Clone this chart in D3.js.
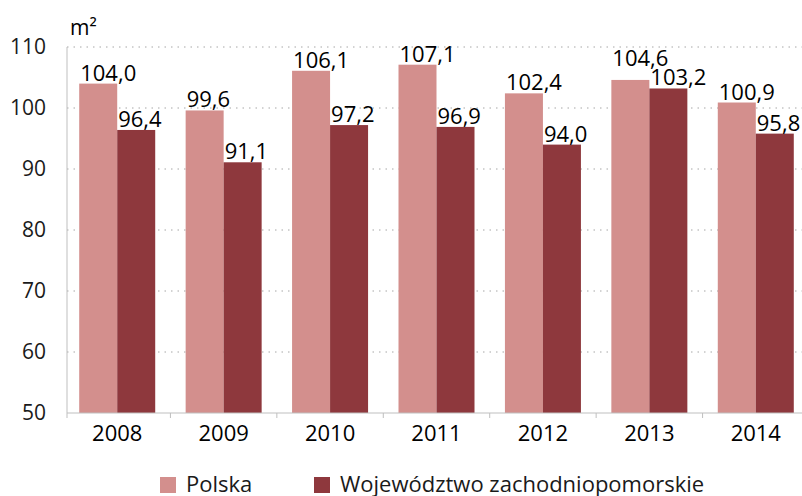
<!DOCTYPE html>
<html>
<head>
<meta charset="utf-8">
<script src="https://cdn.jsdelivr.net/npm/d3@7"></script>
<style>
  body { margin: 0; background: #fff; }
  svg { font-family: "Open Sans", "Liberation Sans", Arial, sans-serif; }
  .grid line { stroke: #a6a6a6; stroke-dasharray: 1.5,5; }
  .axis path, .axis line { stroke: #bfbfbf; }
</style>
</head>
<body>
<svg width="802" height="496"></svg>
<script>
var years = ["2008", "2009", "2010", "2011", "2012", "2013", "2014"];
var polska = [104.0, 99.6, 106.1, 107.1, 102.4, 104.6, 100.9];
var zachodniopomorskie = [96.4, 91.1, 97.2, 96.9, 94.0, 103.2, 95.8];
var seriesNames = ["Polska", "Województwo zachodniopomorskie"];
var yTicks = [50, 60, 70, 80, 90, 100, 110];

var colors = ["#d38f8d", "#8e383d"];
var font = "Open Sans, Liberation Sans, Arial, sans-serif";
var svg = d3.select("svg"),
    axisX = 67, plotLeft = 64, plotRight = 809, plotTop = 47, plotBottom = 413;

var x = d3.scaleBand().domain(years).range([plotLeft, plotRight]);
var xs = d3.scaleBand().domain([0, 1]).range([0, 76]);
var y = d3.scaleLinear().domain([50, 110]).range([plotBottom, plotTop]);

// grid
svg.append("g").attr("class", "grid")
  .selectAll("line").data(yTicks.slice(1)).join("line")
  .attr("x1", axisX).attr("x2", 802)
  .attr("y1", function(d) { return y(d); }).attr("y2", function(d) { return y(d); });

var series = [polska, zachodniopomorskie];
function barX(i, si) { return x(years[i]) + x.bandwidth() / 2 - 38 + xs(si); }

series.forEach(function(vals, si) {
  svg.append("g").attr("fill", colors[si])
    .selectAll("rect").data(vals).join("rect")
    .attr("x", function(d, i) { return barX(i, si); })
    .attr("width", xs.bandwidth())
    .attr("y", function(d) { return y(d); })
    .attr("height", function(d) { return plotBottom - y(d); });
});

// data labels; lift the left label if it would collide with the right one
var labelSize = 22, capH = 16;
series.forEach(function(vals, si) {
  svg.append("g").selectAll("text").data(vals).join("text")
    .attr("x", function(d, i) { return barX(i, si) + 1; })
    .attr("y", function(d, i) {
      var base = y(d) - 3;
      if (si === 0) {
        var otherTop = y(zachodniopomorskie[i]) - 3 - capH;
        if (base > otherTop - 3) base = otherTop - 3;
      }
      return base;
    })
    .attr("font-size", labelSize).attr("fill", "#000")
    .text(function(d) { return d.toFixed(1).replace(".", ","); });
});

// y axis
var yAxis = svg.append("g").attr("class", "axis")
  .attr("transform", "translate(" + axisX + ",0)")
  .call(d3.axisLeft(y).tickValues(yTicks).tickSize(0).tickPadding(21));
yAxis.select(".domain").attr("d", "M0," + plotTop + "V" + plotBottom);
yAxis.selectAll("text").attr("font-size", 21).attr("fill", "#1a1a1a").attr("font-family", font);

// x axis
var xAxis = svg.append("g").attr("class", "axis")
  .attr("transform", "translate(0," + plotBottom + ")")
  .call(d3.axisBottom(x).tickSize(0).tickPadding(12));
xAxis.select(".domain").attr("d", "M" + axisX + ",0H802");
xAxis.selectAll("text").attr("font-size", 22).attr("fill", "#000").attr("font-family", font);
xAxis.selectAll(".sep").data(years.slice(1)).join("line").attr("class", "sep")
  .attr("x1", function(d) { return x(d); }).attr("x2", function(d) { return x(d); })
  .attr("y1", 0).attr("y2", 5).attr("stroke", "#bfbfbf");
xAxis.append("line").attr("x1", axisX).attr("x2", axisX).attr("y1", 0).attr("y2", 5).attr("stroke", "#bfbfbf");

svg.append("text").attr("x", 70).attr("y", 35).attr("font-size", 21).text("m²");

// legend
var legendX = [160, 314];
var lg = svg.append("g").selectAll("g").data(seriesNames).join("g")
  .attr("transform", function(d, i) { return "translate(" + legendX[i] + ",477)"; });
lg.append("rect").attr("width", 16).attr("height", 16).attr("fill", function(d, i) { return colors[i]; });
lg.append("text").attr("x", 26).attr("y", 15).attr("font-size", 22).attr("fill", "#1a1a1a").text(function(d) { return d; });
</script>
</body>
</html>
